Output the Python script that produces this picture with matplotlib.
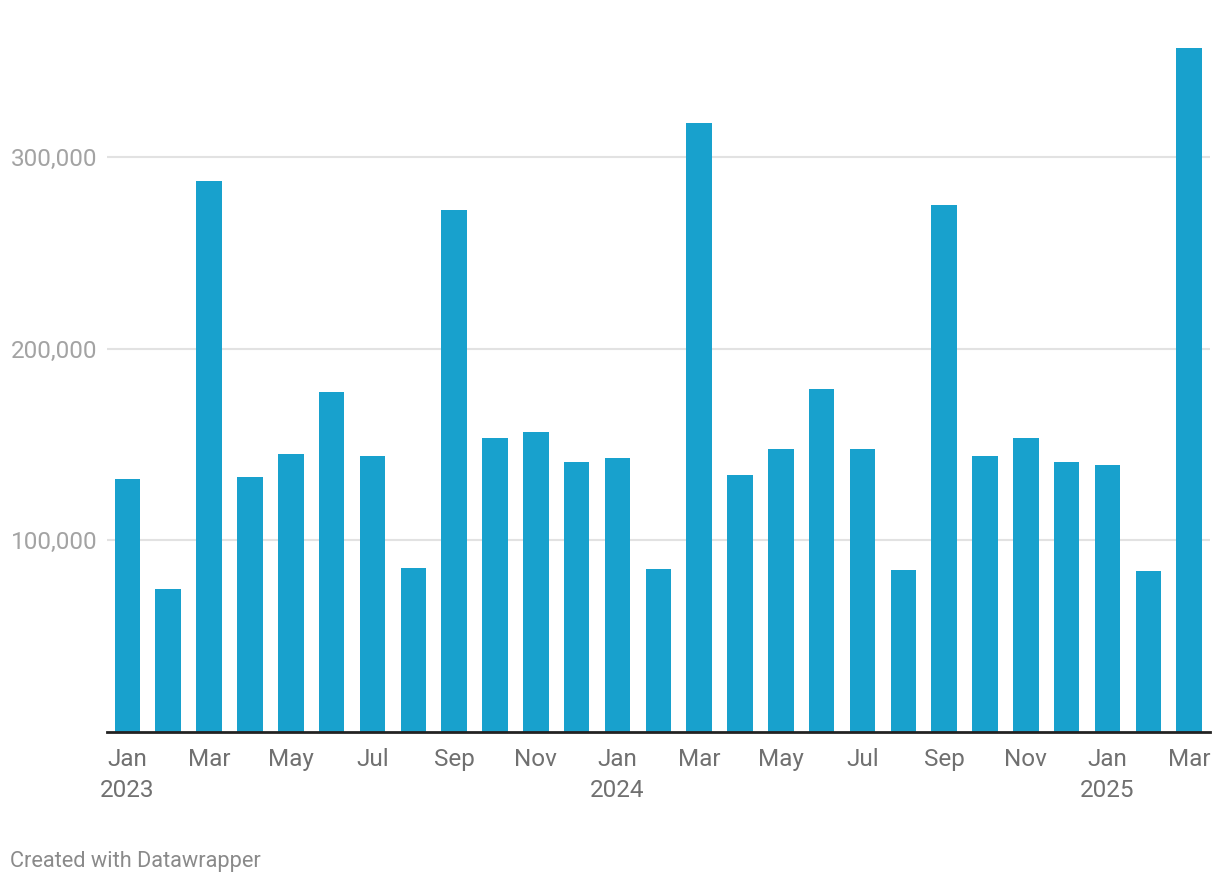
import matplotlib.pyplot as plt
from matplotlib.ticker import FuncFormatter

plt.rcParams['font.family'] = ['Roboto', 'DejaVu Sans']

# ===== DATOS =====

meses = ["Jan 2023", "Feb 2023", "Mar 2023", "Apr 2023", "May 2023", "Jun 2023",
         "Jul 2023", "Aug 2023", "Sep 2023", "Oct 2023", "Nov 2023", "Dec 2023",
         "Jan 2024", "Feb 2024", "Mar 2024", "Apr 2024", "May 2024", "Jun 2024",
         "Jul 2024", "Aug 2024", "Sep 2024", "Oct 2024", "Nov 2024", "Dec 2024",
         "Jan 2025", "Feb 2025", "Mar 2025"]

valores = [132000, 74600, 287400, 133000, 145000, 177400,
           144000, 85500, 272300, 153400, 156500, 140800,
           142900, 85000, 317700, 134100, 147600, 178900,
           147600, 84500, 274900, 144000, 153400, 140800,
           139300, 84000, 356800]

etiquetas_x = ["Jan\n2023", "Mar", "May", "Jul", "Sep", "Nov",
               "Jan\n2024", "Mar", "May", "Jul", "Sep", "Nov",
               "Jan\n2025", "Mar"]

ticks_y = [100000, 200000, 300000]

# ===== GRAFICA =====

fig = plt.figure(figsize=(12.2, 8.84), dpi=100)
ax = fig.add_axes([107 / 1220, 152 / 884, 1103 / 1220, 690 / 884])

x = list(range(len(valores)))
ax.bar(x, valores, width=0.625, color="#18a1cd", zorder=2)

ax.set_xlim(-0.5, len(valores) - 0.49)
ax.set_ylim(0, 360000)

ax.set_yticks(ticks_y)
ax.yaxis.set_major_formatter(FuncFormatter(lambda v, p: f"{int(v):,}"))
ax.grid(axis="y", color="#e2e2e2", linewidth=1.5, zorder=0)

ax.set_xticks(x[::2])
ax.set_xticklabels(etiquetas_x)

ax.tick_params(axis="y", length=0, pad=7, labelsize=17.5, labelcolor="#a3a3a3")
ax.tick_params(axis="x", length=0, pad=11.5, labelsize=17.5, labelcolor="#707070")
for t in ax.get_xticklabels():
    t.set_linespacing(1.45)

for lado in ["top", "right", "left"]:
    ax.spines[lado].set_visible(False)
ax.spines["bottom"].set_color("#222222")
ax.spines["bottom"].set_linewidth(2)
ax.spines["bottom"].set_zorder(3)

fig.text(10 / 1220, 1 - 862 / 884, "Created with Datawrapper",
         fontsize=15.7, color="#8a8a8a", va="center", ha="left")

plt.savefig("out.png", dpi=100)
plt.close()
